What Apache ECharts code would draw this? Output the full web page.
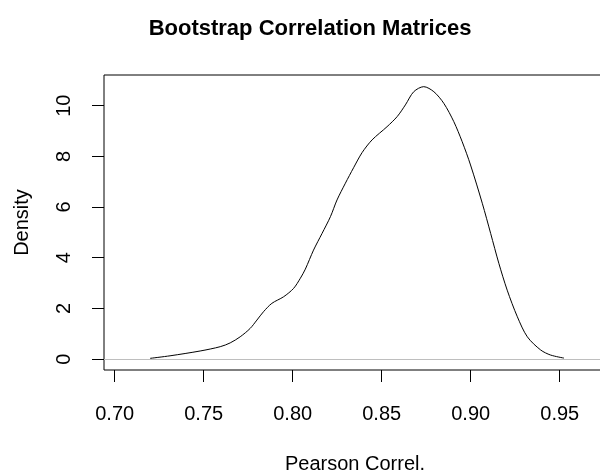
<!DOCTYPE html>
<html>
<head>
<meta charset="utf-8">
<script src="https://cdn.jsdelivr.net/npm/echarts@6/dist/echarts.min.js"></script>
<style>html,body{margin:0;padding:0;background:#fff}#c{width:600px;height:470px}</style>
</head>
<body>
<div id="c"></div>
<script>
var xValues = [0.7199, 0.7311, 0.7480, 0.7593, 0.7649, 0.7705, 0.7761, 0.7799, 0.7836, 0.7883, 0.7949, 0.8005, 0.8043, 0.8071, 0.8117, 0.8165, 0.8212, 0.8249, 0.8296, 0.8342, 0.8390, 0.8446, 0.8530, 0.8587, 0.8633, 0.8680, 0.8736, 0.8793, 0.8849, 0.8905, 0.8952, 0.8999, 0.9065, 0.9112, 0.9158, 0.9205, 0.9262, 0.9318, 0.9393, 0.9449, 0.9524];
var densityValues = [0.03, 0.13, 0.32, 0.49, 0.64, 0.88, 1.21, 1.54, 1.87, 2.20, 2.46, 2.79, 3.19, 3.55, 4.30, 4.96, 5.62, 6.28, 6.94, 7.55, 8.15, 8.65, 9.17, 9.57, 10.03, 10.55, 10.75, 10.55, 10.09, 9.37, 8.58, 7.66, 6.15, 4.96, 3.78, 2.72, 1.67, 0.88, 0.36, 0.16, 0.04];
var xTicks = [0.70, 0.75, 0.80, 0.85, 0.90, 0.95];
var yTicks = [0, 2, 4, 6, 8, 10];
var titleText = 'Bootstrap Correlation Matrices';
var xTitle = 'Pearson Correl.';
var yTitle = 'Density';

var FONT = '"Liberation Sans", Arial, sans-serif';
var data = xValues.map(function (x, i) { return [x, densityValues[i]]; });

var chart = echarts.init(document.getElementById('c'), null, {renderer: 'canvas'});
chart.setOption({
  animation: false,
  backgroundColor: '#ffffff',
  title: {
    text: titleText,
    left: 305,
    top: 13,
    textAlign: 'center',
    textStyle: {fontFamily: FONT, fontSize: 22, fontWeight: 'bold', color: '#000'}
  },
  grid: {
    left: 104, top: 75, width: 502, height: 295,
    outerBoundsMode: 'none', containLabel: false,
    show: true, borderColor: '#000', borderWidth: 1, backgroundColor: 'transparent'
  },
  xAxis: {
    type: 'value',
    min: 0.694, max: 0.976,
    name: xTitle, nameLocation: 'middle', nameGap: 84,
    nameTextStyle: {fontFamily: FONT, fontSize: 20, color: '#000'},
    axisLine: {show: false, onZero: false},
    axisTick: {show: true, length: 12, lineStyle: {color: '#000', width: 1}, customValues: xTicks},
    axisLabel: {fontFamily: FONT, fontSize: 20, color: '#000', margin: 34, customValues: xTicks,
      formatter: function (v) { return v.toFixed(2); }},
    splitLine: {show: false}
  },
  yAxis: {
    type: 'value',
    min: -0.43, max: 11.21,
    name: yTitle, nameLocation: 'middle', nameGap: 72, nameRotate: 90,
    nameTextStyle: {fontFamily: FONT, fontSize: 20, color: '#000'},
    axisLine: {show: false, onZero: false},
    axisTick: {show: true, length: 12, lineStyle: {color: '#000', width: 1}, customValues: yTicks},
    axisLabel: {fontFamily: FONT, fontSize: 20, color: '#000', rotate: 90, margin: 30, customValues: yTicks},
    splitLine: {show: false}
  },
  series: [{
    type: 'line',
    data: data,
    showSymbol: false,
    smooth: 0.3,
    lineStyle: {color: '#000', width: 1},
    markLine: {
      silent: true,
      symbol: ['none', 'none'],
      label: {show: false},
      lineStyle: {color: '#bebebe', type: 'solid', width: 1},
      data: [{yAxis: 0}]
    },
    z: 3
  }]
});
</script>
</body>
</html>
